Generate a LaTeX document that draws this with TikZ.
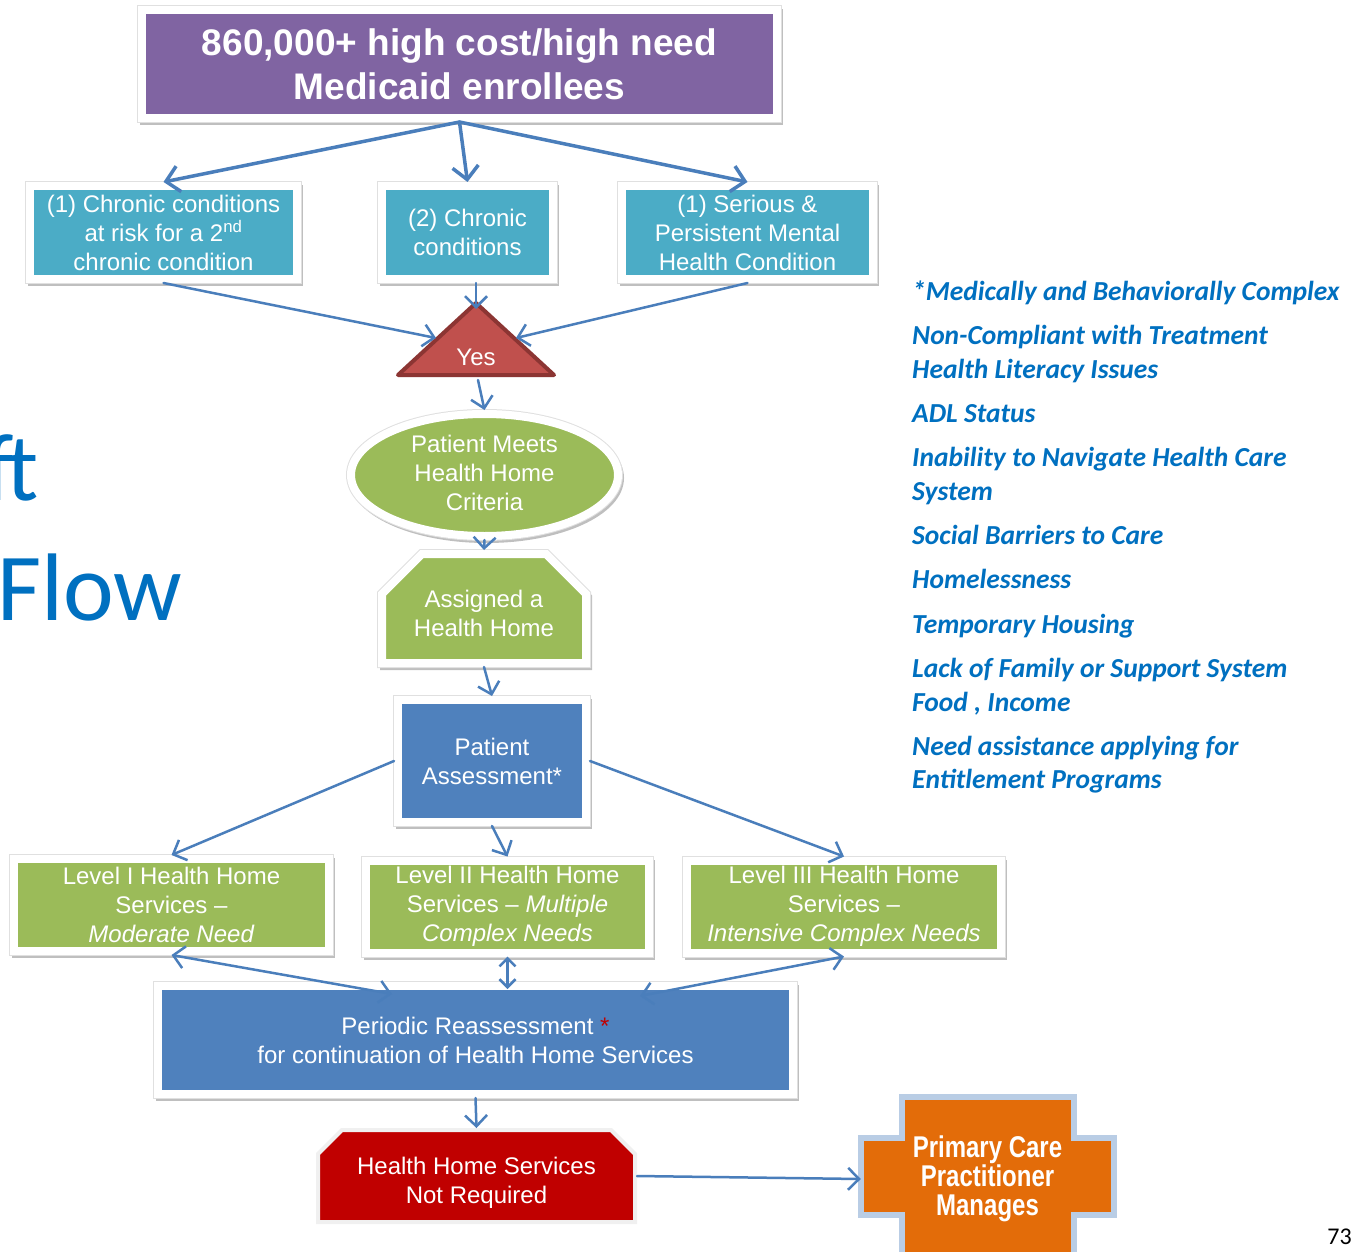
\documentclass[tikz,border=0pt]{standalone}
\usepackage{fontspec}
\setmainfont{Liberation Sans}
\newfontfamily\calfont{Carlito}
\newfontfamily\narrowfont[FakeStretch=0.8]{Liberation Sans}
\usetikzlibrary{arrows.meta,shapes.geometric,shapes.misc,shadows,calc}
\definecolor{purp}{HTML}{8064A2}
\definecolor{teal}{HTML}{4BACC6}
\definecolor{trired}{HTML}{C0504D}
\definecolor{tridark}{HTML}{8C3533}
\definecolor{leaf}{HTML}{9BBB59}
\definecolor{steel}{HTML}{4F81BD}
\definecolor{darkred}{HTML}{C00000}
\definecolor{orng}{HTML}{E36C09}
\definecolor{paleblue}{HTML}{B9CDE5}
\definecolor{arrowc}{HTML}{4A7EBB}
\definecolor{txtblue}{HTML}{0070C0}
\begin{document}
\begin{tikzpicture}[x=1pt,y=-1pt,
  frame/.style={draw=white, line width=8pt, text=white, align=center, inner sep=0pt,
    drop shadow={shadow xshift=2pt, shadow yshift=-3pt, opacity=0.25, fill=black, draw=black, line width=8pt},
    preaction={draw=black!12, line width=10pt},
    font=\fontsize{24}{29}\selectfont},
  boxr/.style={frame, rectangle},
  lbl/.style={text=white, align=center, inner sep=0pt, font=\fontsize{24}{29}\selectfont},
  conn/.style={draw=arrowc, line width=2.5pt, line cap=round,
    -{Straight Barb[length=11pt,width=22pt]}},
  connb/.style={conn, line width=3.5pt, -{Straight Barb[length=13pt,width=26pt]}},
  dconn/.style={draw=arrowc, line width=2.5pt,
    {Straight Barb[length=11pt,width=22pt]}-{Straight Barb[length=11pt,width=22pt]}},
  dconns/.style={draw=arrowc, line width=2.5pt,
    {Straight Barb[length=8pt,width=16pt]}-{Straight Barb[length=8pt,width=16pt]}},
  listtxt/.style={anchor=base west, inner sep=0pt, text=txtblue,
    font=\calfont\bfseries\itshape\fontsize{27.5}{30}\selectfont}
]
\useasboundingbox (0,0) rectangle (1365,1252);
\fill[white] (0,0) rectangle (1365,1252);

% left title fragments
\node[anchor=base east, inner sep=0pt, text=txtblue, font=\calfont\fontsize{96}{96}\selectfont] (ft) at (39,500) {f\kern-7pt t};
\node[anchor=base west, inner sep=0pt, text=txtblue, font=\calfont\fontsize{96}{96}\selectfont] (flow) at (-3,620) {Flow};

% top box
\node[boxr, fill=purp, minimum width=635pt, minimum height=108pt,
  font=\bfseries\fontsize{37}{44}\selectfont] (top) at (459.5,64)
  {860,000+ high cost/high need\\Medicaid enrollees};

% second row
\node[boxr, fill=teal, minimum width=267pt, minimum height=93pt] (A) at (163.5,232.5)
  {(1) Chronic conditions\\at risk for a 2\textsuperscript{nd}\\chronic condition};
\node[boxr, fill=teal, minimum width=171pt, minimum height=93pt] (B) at (467.5,232.5)
  {(2) Chronic\\conditions};
\node[boxr, fill=teal, minimum width=251pt, minimum height=93pt] (C) at (747.5,232.5)
  {(1) Serious \&\\Persistent Mental\\Health Condition};

% triangle Yes
\draw[fill=trired, draw=tridark, line width=4pt, line join=round]
  (476,303) -- (554,375) -- (398,375) -- cycle;
\node[lbl] (yes) at (476,357) {Yes};
\coordinate (yesL) at (436,338);
\coordinate (yesR) at (516,338);
\coordinate (yesTop) at (476,309);
\coordinate (yesBot) at (478,380);

% ellipse
\node[frame, ellipse, fill=leaf, minimum width=267pt, minimum height=122pt] (ell) at (484.5,475) {};
\node[lbl] (elltext) at (484.5,473) {Patient Meets\\Health Home\\Criteria};

% assigned
\node[frame, chamfered rectangle, chamfered rectangle corners={north west,north east},
  chamfered rectangle xsep=20pt, chamfered rectangle ysep=20pt,
  fill=leaf, minimum width=204pt, minimum height=109pt] (asg) at (484,608.5)
  {\rule{0pt}{28pt}Assigned a\\Health Home};

% patient assessment
\node[boxr, fill=steel, minimum width=188pt, minimum height=122pt] (pa) at (492,761)
  {Patient\\Assessment*};

% levels
\node[boxr, fill=leaf, minimum width=315pt, minimum height=92pt] (l1) at (171.5,905)
  {Level I Health Home\\Services --\\\textit{Moderate Need}};
\node[boxr, fill=leaf, minimum width=283pt, minimum height=92pt] (l2) at (507.5,906.5)
  {Level II Health Home\\Services -- \textit{Multiple}\\\textit{Complex Needs}};
\node[boxr, fill=leaf, minimum width=314pt, minimum height=92pt] (l3) at (844,906.5)
  {Level III Health Home\\Services --\\\textit{Intensive Complex Needs}};

% reassessment
\node[boxr, fill=steel, minimum width=635pt, minimum height=108pt] (reas) at (475.5,1040)
  {Periodic Reassessment {\color{darkred}*}\\for continuation of Health Home Services};
\coordinate (r1) at (392,994);
\coordinate (r3) at (640,996);

% not required
\node[chamfered rectangle, chamfered rectangle corners={north west,north east},
  chamfered rectangle xsep=12pt, chamfered rectangle ysep=12pt,
  fill=darkred, draw=black!6, line width=4pt, inner sep=0pt,
  text=white, align=center, font=\fontsize{24}{29}\selectfont,
  minimum width=317pt, minimum height=92pt] (nr) at (476.5,1176)
  {\rule{0pt}{31.5pt}Health Home Services\\Not Required};

% primary care cross
\draw[fill=orng, draw=paleblue, line width=6pt]
  (902,1097) -- (1074,1097) -- (1074,1138) -- (1114,1138) -- (1114,1215) -- (1074,1215)
  -- (1074,1262) -- (902,1262) -- (902,1215) -- (861,1215) -- (861,1138) -- (902,1138) -- cycle;
\node[text=white, align=center, inner sep=0pt, minimum width=253pt,
  font=\narrowfont\bfseries\fontsize{30}{29}\selectfont] (pcp) at (987.5,1179)
  {Primary Care\\Practitioner\\Manages};

% connectors
\draw[connb] (top.south) -- (A.north);
\draw[connb] (top.south) -- (B.north);
\draw[connb] (top.south) -- (C.north);
\draw[conn] (A.south) -- (yesL);
\draw[conn] (yesTop |- B.south) -- (yesTop);
\draw[conn] (C.south) -- (yesR);
\draw[conn] (yesBot) -- (ell.north);
\draw[conn] (ell.south) -- (asg.north);
\draw[conn] (asg.south) -- (pa.north);
\draw[conn] (pa.west) -- (l1.north);
\draw[conn] (pa.south) -- (l2.north);
\draw[conn] (pa.east) -- (l3.north);
\draw[dconn] (l1.south) -- (r1);
\draw[dconns] (l2.south) -- ([yshift=-7pt]l2.south |- reas.north);
\draw[dconn] (l3.south) -- (r3);
\draw[conn] (reas.south) -- (nr.north);
\draw[conn] (nr.east) -- (pcp.west);

% right list
\node[listtxt] (m1) at (912,300) {*Medically and Behaviorally Complex};
\node[listtxt] (m2) at (912,344) {Non-Compliant with Treatment};
\node[listtxt] (m3) at (912,378) {Health Literacy Issues};
\node[listtxt] (m4) at (912,422) {ADL Status};
\node[listtxt] (m5) at (912,466) {Inability to Navigate Health Care};
\node[listtxt] (m6) at (912,500) {System};
\node[listtxt] (m7) at (912,544) {Social Barriers to Care};
\node[listtxt] (m8) at (912,588) {Homelessness};
\node[listtxt] (m9) at (912,633) {Temporary Housing};
\node[listtxt] (m10) at (912,677) {Lack of Family or Support System};
\node[listtxt] (m11) at (912,711) {Food , Income};
\node[listtxt] (m12) at (912,755) {Need assistance applying for};
\node[listtxt] (m13) at (912,788) {Entitlement Programs};

% page number
\node[anchor=base east, inner sep=0pt, font=\calfont\fontsize{24}{24}\selectfont] (pg) at (1352,1244) {73};
\end{tikzpicture}
\end{document}
